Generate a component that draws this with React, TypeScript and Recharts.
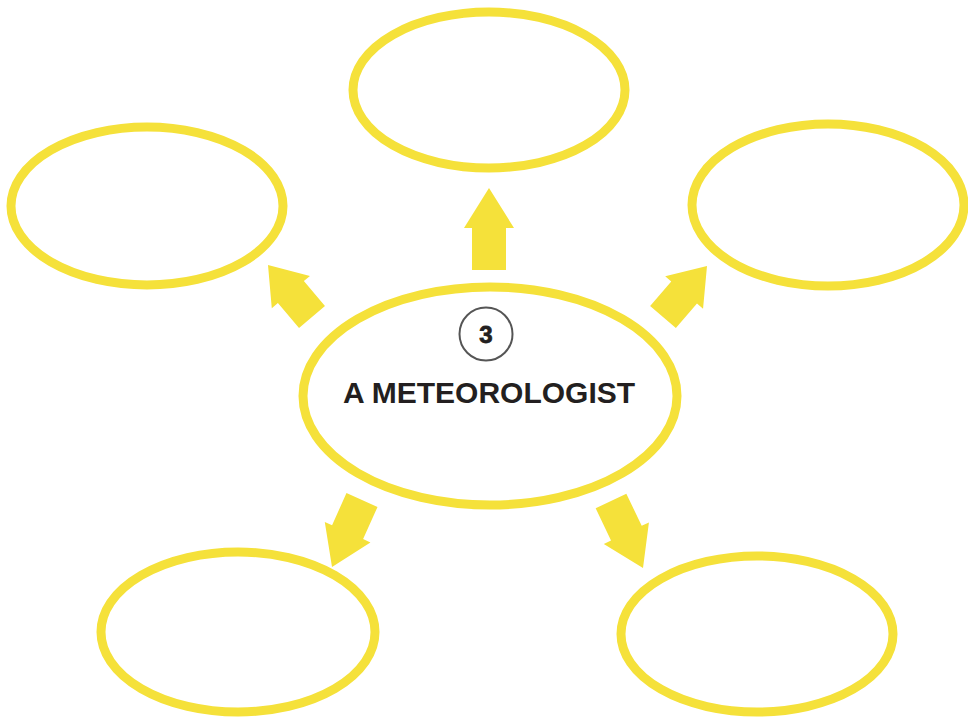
import { ScatterChart, Scatter, XAxis, YAxis } from "recharts";

const WIDTH = 968;
const HEIGHT = 720;
const YELLOW = "#f5e13a";

// nodes of the mind map (data units = page pixels)
const nodeNames = ["top", "topLeft", "topRight", "center", "bottomLeft", "bottomRight"];
const nodeX = [489, 147, 828, 490, 238, 757];
const nodeY = [90, 206, 205, 396, 632, 634];
const nodeRx = [136, 136, 136, 187, 137, 136];
const nodeRy = [78, 79, 81, 109, 80, 78];

const centerNumber = "3";
const centerTitle = "A METEOROLOGIST";

// arrows: tail -> tip
const arrowTailX = [489, 312, 663, 362, 611];
const arrowTailY = [270, 317, 317, 500, 501];
const arrowTipX = [489, 268, 707, 332, 643];
const arrowTipY = [188, 265, 266, 567, 568];

const SX = WIDTH / 968;
const SY = HEIGHT / 720;

const nodes = nodeNames.map((name, i) => ({
  name,
  x: nodeX[i],
  y: nodeY[i],
  rx: nodeRx[i],
  ry: nodeRy[i],
}));

const arrows = arrowTailX.map((x, i) => ({
  x,
  y: arrowTailY[i],
  tipX: arrowTipX[i],
  tipY: arrowTipY[i],
}));

function NodeShape(props: any) {
  const { cx, cy, payload } = props;
  const isCenter = payload.name === "center";
  return (
    <g>
      <ellipse
        cx={cx}
        cy={cy}
        rx={payload.rx * SX}
        ry={payload.ry * SY}
        fill="none"
        stroke={YELLOW}
        strokeWidth={9}
      />
      {isCenter && (
        <g>
          <circle cx={cx - 4} cy={cy - 62} r={26.5} fill="#fff" stroke="#555" strokeWidth={2} />
          <text
            x={cx - 4}
            y={cy - 53.5}
            textAnchor="middle"
            fontFamily="'Liberation Sans', Arial, sans-serif"
            fontWeight="bold"
            fontSize={24}
            fill="#231f20"
            stroke="#231f20"
            strokeWidth={0.8}
          >
            {centerNumber}
          </text>
          <text
            x={cx - 1}
            y={cy + 7}
            textAnchor="middle"
            fontFamily="'Liberation Sans', Arial, sans-serif"
            fontWeight="bold"
            fontSize={30}
            fill="#231f20"
          >
            {centerTitle}
          </text>
        </g>
      )}
    </g>
  );
}

function ArrowShape(props: any) {
  const { cx, cy, payload } = props;
  const px = cx + (payload.tipX - payload.x) * SX;
  const py = cy + (payload.tipY - payload.y) * SY;
  const dx = px - cx;
  const dy = py - cy;
  const len = Math.sqrt(dx * dx + dy * dy);
  const ux = dx / len;
  const uy = dy / len;
  const nx = -uy;
  const ny = ux;
  const sw = 17;
  const hw = 25;
  const hl = Math.min(40, len * 0.52);
  const bx = px - ux * hl;
  const by = py - uy * hl;
  const pts = [
    [cx + nx * sw, cy + ny * sw],
    [bx + nx * sw, by + ny * sw],
    [bx + nx * hw, by + ny * hw],
    [px, py],
    [bx - nx * hw, by - ny * hw],
    [bx - nx * sw, by - ny * sw],
    [cx - nx * sw, cy - ny * sw],
  ];
  return <polygon points={pts.map((p) => p.join(",")).join(" ")} fill={YELLOW} />;
}

export default function App() {
  return (
    <div style={{ position: "absolute", left: 0, top: 0, width: WIDTH, height: HEIGHT, background: "#fff" }}>
      <ScatterChart width={WIDTH} height={HEIGHT} margin={{ top: 0, right: 0, bottom: 0, left: 0 }}>
        <XAxis type="number" dataKey="x" domain={[0, 968]} hide />
        <YAxis type="number" dataKey="y" domain={[0, 720]} reversed hide />
        <Scatter data={nodes} shape={NodeShape} isAnimationActive={false} />
        <Scatter data={arrows} shape={ArrowShape} isAnimationActive={false} />
      </ScatterChart>
    </div>
  );
}
